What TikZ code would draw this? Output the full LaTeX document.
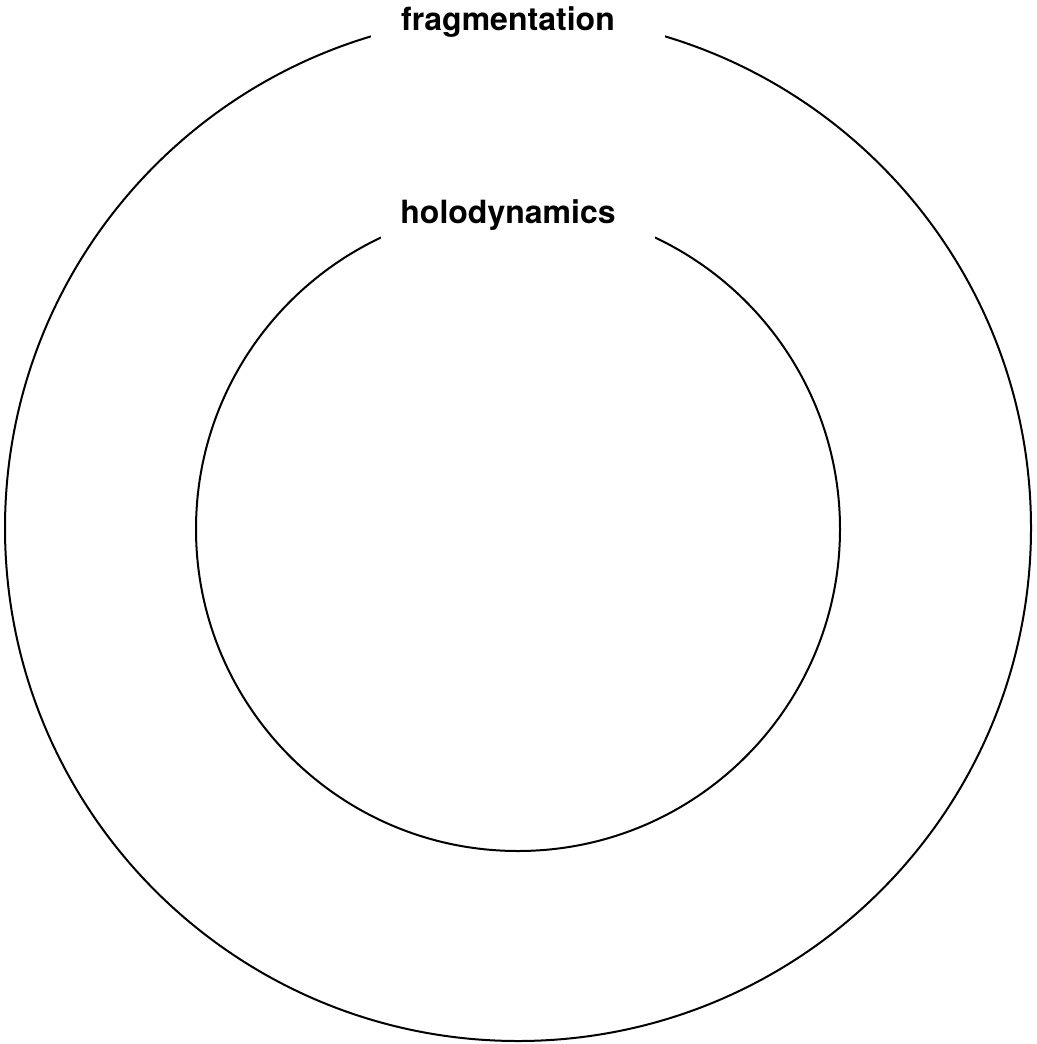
\documentclass[tikz,border=0pt]{standalone}
\usepackage{fontspec}
\setmainfont{TeX Gyre Heros}
\usetikzlibrary{positioning}

\tikzset{
  ring/.style={black, line width=2pt},
  ringlabel/.style={fill=white, inner ysep=1pt, anchor=base,
    font=\fontsize{32}{38}\selectfont\bfseries}
}

\begin{document}
\begin{tikzpicture}[x=1pt, y=-1pt]
  \useasboundingbox (0,0) rectangle (1036,1044);

  % Outer circle
  \draw[ring] (518,528) circle (513);
  % Inner circle
  \draw[ring] (518,529) circle (322);

  % Labels cutting the circles (text sits a bit left in its white box)
  \node[ringlabel, inner xsep=30pt] (frag) at (518,30.5) {fragmentation\kern20pt};
  \node[ringlabel, inner xsep=19pt, inner ysep=8pt] (holo) at (518,223.5) {holodynamics\kern20pt};
\end{tikzpicture}
\end{document}
